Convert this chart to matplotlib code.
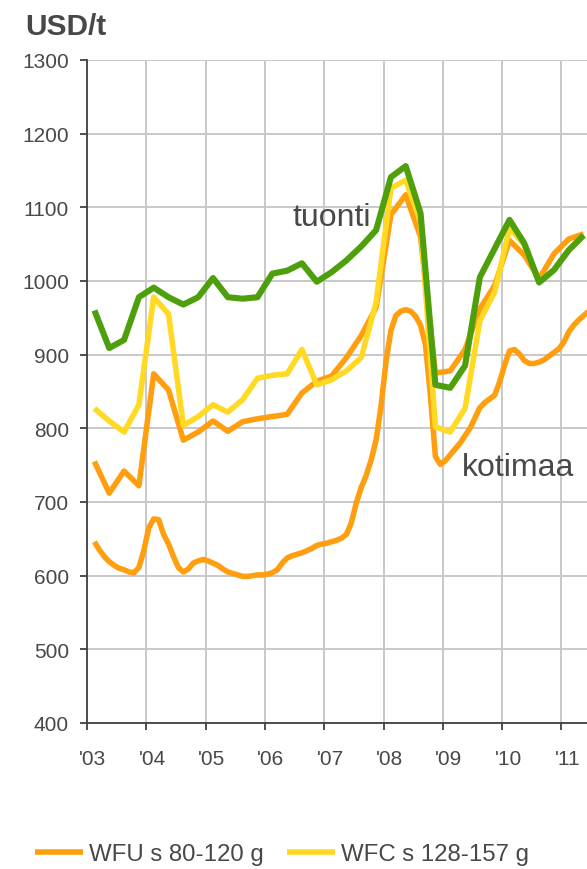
import numpy as np
import matplotlib.pyplot as plt
import matplotlib.transforms as mtransforms

# quarterly series, first point 2003 Q1 (mid-quarter)
tuonti = [960, 909, 920, 978, 991, 978, 968, 978, 1004, 978, 976, 978, 1010, 1014, 1024, 999,
          1012, 1028, 1047, 1069, 1141, 1156, 1092, 859, 855, 885, 1005, 1044, 1083, 1051, 998,
          1015, 1042, 1062]
wfc = [827, 810, 795, 832, 978, 955, 804, 816, 832, 822, 839, 868, 872, 874, 907, 859,
       866, 878, 896, 971, 1126, 1137, 1080, 802, 795, 827, 946, 985, 1072, 1049, 999,
       1015, 1042, 1062]
wfu = [755, 712, 742, 722, 874, 852, 784, 795, 810, 796, 809, 813, 816, 819, 848, 864,
       871, 896, 926, 964, 1090, 1117, 1060, 875, 878, 907, 962, 994, 1055, 1035, 1003,
       1037, 1057, 1064]

# monthly domestic price (kotimaa), first point Feb 2003
kotimaa = [646, 635, 626, 619, 614, 610, 608, 605, 604, 611, 634, 665, 677, 676, 656, 643,
           626, 611, 605, 609, 617, 620, 622, 620, 617, 614, 609, 605, 603, 601, 599, 599,
           600, 601, 601, 602, 604, 608, 617, 624, 627, 629, 631, 634, 637, 641, 643, 644,
           646, 648, 651, 656, 672, 699, 720, 736, 757, 784, 830, 890, 933, 953, 959, 961,
           959, 952, 940, 913, 844, 762, 751, 756, 764, 772, 780, 790, 800, 814, 828, 835,
           840, 845, 863, 886, 905, 907, 901, 892, 888, 888, 890, 893, 898, 903, 908, 917,
           931, 940, 947, 953, 959]

years = list(range(2003, 2012))
year_labels = ["'03", "'04", "'05", "'06", "'07", "'08", "'09", "'10", "'11"]

xq = 2003.125 + 0.25 * np.arange(len(tuonti))
xm = 2003.125 + np.arange(len(kotimaa)) / 12

plt.rcParams['font.family'] = ['Liberation Sans', 'DejaVu Sans']
txt = '#484848'
c_green = '#4e9f0c'
c_yellow = '#ffd924'
c_orange = '#ff9f10'

fig = plt.figure(figsize=(5.87, 8.70), dpi=100)
ax = fig.add_axes([87 / 587, 1 - 724 / 870, 533.7 / 587, 663 / 870])

ax.plot(xm, kotimaa, color=c_orange, lw=4.0, solid_capstyle='butt', zorder=3)
l_wfu, = ax.plot(xq, wfu, color=c_orange, lw=4.0, solid_capstyle='butt', zorder=3)
l_wfc, = ax.plot(xq, wfc, color=c_yellow, lw=4.0, solid_capstyle='butt', zorder=4)
ax.plot(xq, tuonti, color=c_green, lw=4.4, solid_capstyle='butt', zorder=5)

ax.set_xlim(2003, 2012)
ax.set_ylim(400, 1300)
ax.set_yticks(range(400, 1301, 100))
ax.set_xticks(years)
ax.set_xticklabels(year_labels)
ax.grid(True, color='#c8c8c8', lw=1.4)
ax.set_axisbelow(True)

for s in ['top', 'right']:
    ax.spines[s].set_visible(False)
for s in ['left', 'bottom']:
    ax.spines[s].set_color('#404040')
    ax.spines[s].set_linewidth(1.3)

ax.tick_params(axis='y', length=5, width=1.3, color='#404040', pad=8,
               labelsize=15, labelcolor=txt)
ax.tick_params(axis='x', length=5, width=1.3, color='#404040', pad=14,
               labelsize=15, labelcolor=txt)
offset = mtransforms.ScaledTranslation(6 / 100, 0, fig.dpi_scale_trans)
for lab in ax.get_xticklabels():
    lab.set_transform(lab.get_transform() + offset)

ax.text(2006.46, 1087, 'tuonti', fontsize=23, color=txt, va='center', ha='left')
ax.text(2009.32, 747, 'kotimaa', fontsize=23, color=txt, va='center', ha='left')

fig.text(25 / 587, 1 - 27 / 870, 'USD/t', fontsize=21.5, fontweight='bold',
         color=txt, va='center', ha='left')

fig.legend([l_wfu, l_wfc], ['WFU s 80-120 g', 'WFC s 128-157 g'],
           loc='center left', bbox_to_anchor=(35 / 587, 1 - 855 / 870),
           ncol=2, frameon=False, fontsize=17.3, labelcolor=txt,
           handlelength=2.0, handletextpad=0.25, columnspacing=0.95,
           borderpad=0, borderaxespad=0)

fig.savefig('out.png', dpi=100)
